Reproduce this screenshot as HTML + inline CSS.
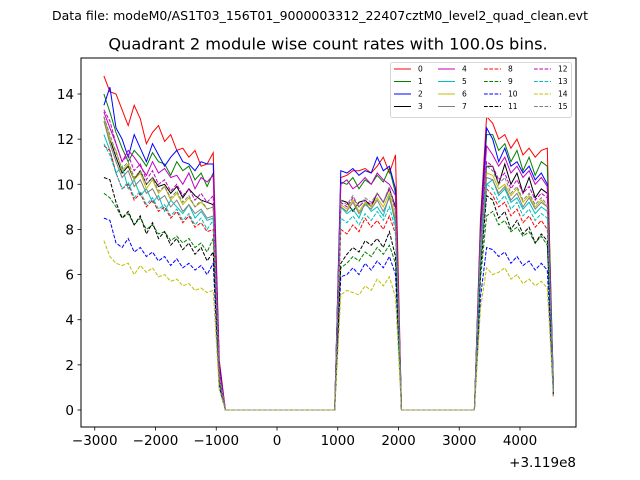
<!DOCTYPE html>
<html><head><meta charset="utf-8"><style>
body{margin:0;background:#fff;}
svg{display:block;font-family:"DejaVu Sans","Liberation Sans",sans-serif;}
</style></head><body>
<svg id="chart" width="640" height="480" viewBox="0 0 640 480" xmlns="http://www.w3.org/2000/svg">
<rect width="640" height="480" fill="#fff"/>
<text x="320" y="20" font-size="12" text-anchor="middle" textLength="536" lengthAdjust="spacingAndGlyphs">Data file: modeM0/AS1T03_156T01_9000003312_22407cztM0_level2_quad_clean.evt</text>
<text x="328" y="49.5" font-size="16.2" text-anchor="middle">Quadrant 2 module wise count rates with 100.0s bins.</text>
<g id="plot"></g>
<rect x="81" y="58" width="495" height="369" fill="none" stroke="#000" stroke-width="1"/>
<g id="ticks"></g>
<text x="576" y="467" font-size="13.5" text-anchor="end">+3.119e8</text>
<g id="legend"></g>
</svg>
<script>
const seg1Start = -2850, seg2Start = 1050, seg3Start = 3350, binStep = 100;
const zeroBins = [-850, 950, 2050, 3250];
const xTicks = [-3000,-2000,-1000,0,1000,2000,3000,4000];
const xTickLabels = ["\u22123000","\u22122000","\u22121000","0","1000","2000","3000","4000"];
const yTicks = [0,2,4,6,8,10,12,14];
const seriesNames = ["0","1","2","3","4","5","6","7","8","9","10","11","12","13","14","15"];
const s1 = [
[14.8,14.1,14.0,13.3,12.6,13.5,12.9,11.8,12.3,12.6,11.9,12.2,11.5,11.6,11.2,11.5,10.8,10.9,11.4,2.2],
[14.0,13.2,12.3,11.6,11.0,11.5,11.2,10.8,11.4,11.0,10.9,10.4,11.0,10.6,10.8,10.2,10.5,9.9,10.5,1.8],
[13.5,14.3,12.5,12.0,11.2,12.2,11.6,11.0,11.8,11.3,10.8,11.2,11.5,11.0,10.9,10.6,11.0,10.9,10.9,2.0],
[13.0,12.0,11.2,10.5,10.8,10.2,10.6,10.0,10.3,9.9,10.0,9.6,9.9,9.4,9.8,9.5,9.3,9.2,9.1,1.5],
[13.2,12.5,11.8,11.0,11.5,11.2,10.8,10.4,11.0,10.5,10.7,10.3,10.4,10.0,10.5,9.8,10.3,10.1,10.4,1.8],
[12.2,11.5,10.5,10.8,9.8,10.2,9.5,9.8,9.2,9.5,8.8,9.3,9.0,8.7,9.1,8.5,8.8,8.4,8.5,1.3],
[13.0,12.0,11.5,10.6,10.9,10.2,10.5,9.8,10.2,9.6,9.9,9.3,9.6,9.1,9.4,9.0,9.2,8.9,9.0,1.6],
[12.8,11.8,11.0,10.3,10.6,9.9,10.2,9.6,9.8,9.3,9.5,9.0,9.3,8.8,9.1,8.7,8.9,8.5,8.6,1.4],
[11.7,11.5,10.5,9.8,10.0,9.3,9.6,9.0,9.3,8.8,9.0,8.5,8.8,8.3,8.6,8.1,8.3,7.9,8.0,1.3],
[9.6,9.4,9.0,8.5,8.7,8.2,8.5,8.0,8.2,7.8,7.9,7.5,7.7,7.4,7.6,7.2,7.4,7.0,7.6,1.2],
[8.5,8.4,7.4,7.2,7.6,7.0,7.2,6.8,7.0,6.6,6.8,6.4,6.7,6.3,6.5,6.2,6.4,6.0,6.5,1.0],
[10.3,10.2,9.2,8.5,8.8,8.2,8.6,7.8,8.3,7.6,7.9,7.3,7.6,7.1,7.4,6.9,7.2,6.6,7.0,1.3],
[13.3,12.8,11.8,11.0,11.3,10.6,10.9,10.2,10.6,10.0,10.2,9.7,10.0,9.5,9.8,9.3,9.6,9.2,9.5,1.7],
[11.8,11.3,10.5,9.8,10.1,9.4,9.7,9.1,9.4,8.9,9.1,8.6,8.9,8.4,8.7,8.2,8.5,8.0,8.4,1.4],
[7.5,6.8,6.5,6.4,6.5,6.0,6.4,6.1,6.3,5.9,6.0,5.7,5.8,5.5,5.6,5.3,5.4,5.2,5.3,0.9],
[13.0,12.2,11.4,10.7,11.0,10.3,10.6,10.0,10.3,9.7,9.9,9.4,9.7,9.2,9.5,9.0,9.3,8.9,9.0,1.5]];
const s2 = [
[10.3,10.4,10.6,10.6,10.7,10.5,10.8,11.2,10.5,11.3],
[10.1,10.0,10.3,9.8,10.2,10.0,10.4,10.1,10.7,9.6],
[10.6,10.5,10.7,10.4,10.6,10.5,11.2,10.6,10.8,9.8],
[9.3,9.2,8.8,9.2,9.3,9.0,9.6,9.2,9.8,9.0],
[10.0,10.2,9.8,10.0,10.3,10.0,10.5,10.2,10.0,9.5],
[9.0,8.7,8.9,8.5,9.2,8.8,9.0,8.6,9.5,8.2],
[9.1,8.9,9.3,8.8,9.2,9.0,9.4,9.0,9.6,8.5],
[9.0,8.8,9.2,8.7,9.1,8.9,9.3,8.8,9.4,8.4],
[8.0,7.8,8.2,7.9,8.5,8.1,8.4,8.0,8.6,7.8],
[6.3,6.5,6.8,6.6,7.0,6.8,7.2,6.9,7.3,6.5],
[5.9,6.0,6.3,6.0,6.5,6.2,6.6,6.3,6.8,6.0],
[6.5,6.9,7.2,7.0,7.5,7.3,7.6,7.2,7.9,6.8],
[9.2,9.0,9.4,9.0,9.3,9.1,9.6,9.2,9.8,8.8],
[8.5,8.3,8.6,8.2,8.7,8.4,8.8,8.4,9.0,8.0],
[5.1,5.3,5.2,5.1,5.5,5.3,5.8,5.5,5.9,5.0],
[9.3,9.1,9.5,9.0,9.4,9.2,9.6,9.2,9.9,8.8]];
const s3 = [
[8.5,13.0,12.7,12.0,12.2,11.6,12.0,11.3,11.6,11.2,11.5,11.6,0.6],
[8.2,12.2,12.2,11.5,11.8,11.0,11.5,10.6,11.2,10.4,11.0,10.8,1.2],
[8.0,12.5,12.0,11.0,11.6,10.8,11.0,10.5,10.8,10.2,10.5,10.0,1.0],
[7.5,10.8,10.8,10.0,10.9,10.0,10.5,9.6,10.3,9.4,9.8,9.6,0.8],
[7.8,11.7,11.3,10.8,11.2,10.5,10.8,10.3,10.6,10.0,10.3,9.9,1.1],
[7.0,10.0,10.2,9.5,9.8,9.2,9.4,8.9,9.2,8.7,9.0,8.8,0.9],
[7.3,10.5,10.4,9.8,10.0,9.5,9.8,9.2,9.5,9.0,9.3,9.0,0.8],
[7.2,10.3,10.2,9.6,9.9,9.3,9.6,9.0,9.4,8.9,9.2,9.0,0.8],
[6.5,9.8,9.5,9.0,9.2,8.6,8.9,8.3,8.6,8.1,8.4,8.0,0.7],
[5.8,8.6,8.8,8.2,8.4,7.9,8.1,7.7,7.9,7.4,7.7,7.3,0.7],
[5.0,7.2,7.1,6.8,7.0,6.5,6.8,6.4,6.6,6.2,6.5,6.2,0.6],
[6.2,9.5,9.3,8.5,8.8,8.0,8.4,7.8,8.1,7.4,7.8,7.5,0.7],
[7.5,11.0,10.8,10.2,10.5,9.8,10.2,9.6,9.9,9.3,9.6,9.4,0.9],
[6.8,10.0,9.8,9.2,9.5,8.9,9.2,8.6,8.9,8.4,8.7,8.5,0.8],
[4.5,6.3,6.0,6.1,6.3,5.8,6.0,5.6,5.8,5.5,5.7,5.4,0.6],
[7.4,10.8,10.6,10.0,10.3,9.6,9.9,9.3,9.6,9.1,9.4,9.1,0.8]];
const colors = ["#ff0000","#008000","#0000ff","#000000","#bf00bf","#00bfbf","#bfbf00","#808080"];
const NS = "http://www.w3.org/2000/svg";
const X = v => 277 + v * 0.06075;
const Y = v => 410 - v * 22.571;
function mk(tag, attrs, parent){const e=document.createElementNS(NS,tag);for(const k in attrs)e.setAttribute(k,attrs[k]);parent.appendChild(e);return e;}
const plot = document.getElementById('plot');
for(let i=0;i<16;i++){
  const pts=[];
  s1[i].forEach((v,j)=>pts.push([seg1Start+j*binStep,v]));
  pts.push([zeroBins[0],0]);pts.push([zeroBins[1],0]);
  s2[i].forEach((v,j)=>pts.push([seg2Start+j*binStep,v]));
  pts.push([zeroBins[2],0]);pts.push([zeroBins[3],0]);
  s3[i].forEach((v,j)=>pts.push([seg3Start+j*binStep,v]));
  const p = mk('polyline',{points:pts.map(p=>X(p[0]).toFixed(1)+','+Y(p[1]).toFixed(1)).join(' '),fill:'none',stroke:colors[i%8],'stroke-width':1,'stroke-dasharray':i>=8?'3.7,1.6':'none'},plot);
  
  
}
const tg=document.getElementById('ticks');
xTicks.forEach((t,i)=>{
  const l=mk('line',{x1:X(t),x2:X(t),y1:427,y2:430.5,stroke:'#000','stroke-width':0.8},tg);
  
  
  const tx=mk('text',{x:X(t),y:445,'font-size':13.5,'text-anchor':'middle'},tg);tx.textContent=xTickLabels[i];
  
  
});
yTicks.forEach(t=>{
  const l=mk('line',{x1:77.5,x2:81,y1:Y(t),y2:Y(t),stroke:'#000','stroke-width':0.8},tg);
  
  
  const tx=mk('text',{x:74,y:Y(t)+5,'font-size':13.5,'text-anchor':'end'},tg);tx.textContent=String(t);
  
  
});
const lg=document.getElementById('legend');
mk('rect',{x:390.5,y:62.5,width:181,height:55,rx:2,fill:'#fff',stroke:'#ccc','stroke-width':0.8},lg);
const colX=[394,438,484,534], rowY=[69,81.5,94,106.5];
for(let i=0;i<16;i++){
  const c=Math.floor(i/4), r=i%4;
  const l=mk('line',{x1:colX[c],x2:colX[c]+17,y1:rowY[r],y2:rowY[r],stroke:colors[i%8],'stroke-width':1,'stroke-dasharray':i>=8?'3.7,1.6':'none'},lg);
  
  
  const t=mk('text',{x:colX[c]+24,y:rowY[r]+2.5,'font-size':7.5},lg);t.textContent=seriesNames[i];
  
  
}
</script>
</body></html>
